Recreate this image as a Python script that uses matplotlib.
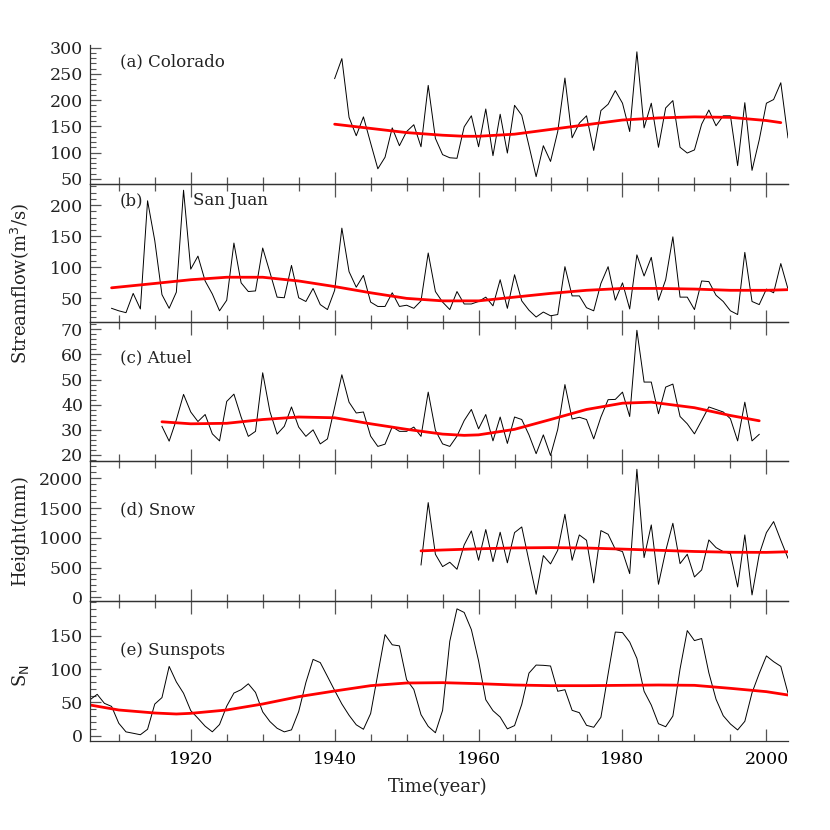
import matplotlib
matplotlib.use("Agg")
import matplotlib.pyplot as plt
from matplotlib.ticker import MultipleLocator

plt.rcParams['font.family'] = ['DejaVu Serif']

# ---------------- data ----------------
colorado_years = list(range(1940, 2004))
colorado = [241, 279, 167, 132, 168, 118, 69, 91, 147, 113,
            140, 153, 111, 228, 127, 96, 90, 89, 149, 170,
            111, 183, 94, 173, 99, 190, 171, 113, 54, 113,
            83, 140, 242, 128, 156, 170, 104, 180, 192, 218,
            194, 140, 292, 147, 194, 110, 185, 199, 110, 99,
            105, 154, 181, 151, 170, 170, 75, 195, 66, 124,
            194, 201, 233, 128]
colorado_trend_years = [1940, 1945, 1950, 1955, 1958, 1960, 1965, 1970, 1975, 1980, 1985, 1990, 1995, 2000, 2002]
colorado_trend = [154, 146, 138, 133, 131, 131, 135, 144, 153, 162, 166, 168, 167, 161, 157]

sanjuan_years = list(range(1909, 2004))
sanjuan = [34, 30, 27, 58, 33, 207, 143, 56, 34, 60,
           224, 97, 118, 78, 57, 30, 47, 139, 75, 61,
           62, 131, 92, 52, 51, 103, 51, 45, 66, 40,
           32, 63, 163, 93, 68, 87, 44, 37, 37, 59,
           37, 39, 34, 46, 123, 61, 44, 32, 61, 41,
           41, 45, 52, 38, 80, 34, 88, 46, 31, 20,
           28, 22, 24, 101, 54, 54, 35, 30, 74, 101,
           47, 75, 33, 120, 86, 116, 47, 80, 149, 52,
           52, 32, 78, 77, 55, 45, 30, 24, 124, 45,
           40, 65, 59, 106, 65]
sanjuan_trend_years = [1909, 1915, 1920, 1925, 1930, 1935, 1940, 1945, 1950, 1955, 1960, 1965, 1970, 1975, 1980, 1985, 1990, 1995, 2000, 2003]
sanjuan_trend = [67, 74, 80, 84, 84, 78, 69, 59, 50, 46, 46, 52, 58, 63, 66, 66, 65, 63, 63, 64]

atuel_years = list(range(1916, 2000))
atuel = [31.4, 25.5, 34.0, 44.1, 37.1, 33.3, 36.1, 28.4, 25.6, 41.3,
         44.2, 35.1, 27.4, 29.4, 52.7, 37.3, 28.3, 31.4, 39.1, 31.1,
         27.4, 30.0, 24.4, 26.4, 39.0, 51.9, 41.0, 36.7, 37.1, 27.5,
         23.4, 24.3, 31.2, 29.4, 29.4, 31.1, 27.4, 45.0, 29.8, 24.4,
         23.4, 27.5, 33.7, 38.1, 30.4, 36.1, 25.6, 35.1, 24.6, 35.1,
         34.1, 28.0, 20.5, 28.0, 19.8, 30.2, 48.0, 34.3, 35.0, 34.1,
         26.4, 35.1, 42.0, 42.1, 45.0, 35.3, 69.6, 49.0, 49.0, 36.4,
         47.0, 48.2, 35.3, 32.4, 28.4, 33.7, 39.1, 38.1, 37.1, 34.4,
         25.6, 41.0, 25.6, 28.2]
atuel_trend_years = [1916, 1920, 1925, 1930, 1935, 1940, 1945, 1950, 1955, 1958, 1960, 1965, 1970, 1975, 1980, 1984, 1990, 1995, 1999]
atuel_trend = [33.2, 32.4, 32.6, 34.1, 35.1, 34.8, 32.4, 30.2, 28.3, 27.8, 28.0, 30.2, 34.1, 38.1, 40.6, 41.0, 38.8, 35.7, 33.6]

snow_years = list(range(1952, 2004))
snow = [544, 1591, 723, 516, 589, 471, 880, 1115, 622, 1138,
        600, 1093, 580, 1087, 1182, 611, 51, 701, 561, 790,
        1395, 622, 1048, 958, 242, 1121, 1059, 807, 768, 398,
        2151, 667, 1216, 219, 779, 1244, 566, 723, 342, 460,
        964, 835, 768, 734, 174, 1048, 40, 723, 1087, 1272,
        958, 656]
snow_trend_years = [1952, 1955, 1960, 1965, 1970, 1975, 1980, 1985, 1990, 1995, 2000, 2003]
snow_trend = [780, 795, 815, 830, 835, 828, 810, 790, 770, 757, 755, 765]

sun_years = list(range(1906, 2004))
sunspots = [53.8, 62.0, 48.5, 43.9, 18.6, 5.7, 3.6, 1.4, 9.6, 47.4,
            57.1, 103.9, 80.6, 63.6, 37.6, 26.1, 14.2, 5.8, 16.7, 44.3,
            63.9, 69.0, 77.8, 64.9, 35.7, 21.2, 11.1, 5.7, 8.7, 36.1,
            79.7, 114.4, 109.6, 88.8, 67.8, 47.5, 30.6, 16.3, 9.6, 33.2,
            92.6, 151.6, 136.3, 134.7, 83.9, 69.4, 31.5, 13.9, 4.4, 38.0,
            141.7, 190.2, 184.8, 159.0, 112.3, 53.9, 37.5, 27.9, 10.2, 15.1,
            47.0, 93.8, 105.9, 105.5, 104.5, 66.6, 68.9, 38.0, 34.5, 15.5,
            12.6, 27.5, 92.5, 155.4, 154.6, 140.4, 115.9, 66.6, 45.9, 17.9,
            13.4, 29.4, 100.2, 157.6, 142.6, 145.7, 94.3, 54.6, 29.9, 17.5,
            8.6, 21.5, 64.3, 93.3, 119.6, 111.0, 104.0, 63.7]
sun_trend_years = [1906, 1910, 1915, 1918, 1920, 1925, 1930, 1935, 1940, 1945, 1950, 1955, 1960, 1965, 1970, 1975, 1980, 1985, 1990, 1995, 2000, 2003]
sun_trend = [46, 38.5, 34, 32.5, 33.5, 38.5, 47.5, 58.5, 67, 75, 79, 79.5, 78, 76, 75, 75, 75.5, 76, 75.5, 71, 66, 61]

panel_labels = ["(a) Colorado", "(b)", "(c) Atuel", "(d) Snow", "(e) Sunspots"]
x_tick_labels = ["1920", "1940", "1960", "1980", "2000"]
y_ticks = [
    [50, 100, 150, 200, 250, 300],
    [50, 100, 150, 200],
    [20, 30, 40, 50, 60, 70],
    [0, 500, 1000, 1500, 2000],
    [0, 50, 100, 150],
]

# ---------------- figure ----------------
fig = plt.figure(figsize=(8.3, 8.3), dpi=100)
L, R = 90 / 830, 788 / 830
tops = [45, 184, 322, 461, 601]
bots = [184, 322, 461, 601, 741]

series = [
    (colorado_years, colorado, colorado_trend_years, colorado_trend, (40, 305), 10),
    (sanjuan_years, sanjuan, sanjuan_trend_years, sanjuan_trend, (12, 234), 10),
    (atuel_years, atuel, atuel_trend_years, atuel_trend, (17.6, 72.9), 2),
    (snow_years, snow, snow_trend_years, snow_trend, (-62, 2290), 100),
    (sun_years, sunspots, sun_trend_years, sun_trend, (-8, 202), 10),
]
label_y = [0.878, 0.877, 0.74, 0.65, 0.65]

axes = []
for i, (xs, ys, tx, ty, ylim, mnr) in enumerate(series):
    b = 1 - bots[i] / 830
    h = (bots[i] - tops[i]) / 830
    ax = fig.add_axes([L, b, R - L, h])
    ax.plot(xs, ys, color='black', lw=0.7)
    ax.plot(tx, ty, color='#ff0000', lw=2.0, solid_capstyle='round')
    ax.set_xlim(1906, 2003)
    ax.set_ylim(*ylim)
    ax.xaxis.set_major_locator(MultipleLocator(20))
    ax.xaxis.set_minor_locator(MultipleLocator(5))
    ax.set_yticks(y_ticks[i])
    ax.yaxis.set_minor_locator(MultipleLocator(mnr))
    ax.spines['right'].set_visible(False)
    ax.spines['top'].set_visible(i > 0)
    for s in ax.spines.values():
        s.set_linewidth(0.9)
        s.set_color('#333333')
    ax.tick_params(axis='both', which='both', direction='in', color='#555555')
    ax.tick_params(axis='x', which='major', length=9, width=0.9, top=(i > 0))
    ax.tick_params(axis='x', which='minor', length=5, width=0.9, top=(i > 0))
    ax.tick_params(axis='y', which='major', length=8, width=0.9, labelsize=12.5, pad=5)
    ax.tick_params(axis='y', which='minor', length=4, width=0.8)
    ax.set_facecolor('none')
    if i < 4:
        ax.tick_params(axis='x', labelbottom=False)
    else:
        ax.set_xticks([1920, 1940, 1960, 1980, 2000])
        ax.set_xticklabels(x_tick_labels)
        ax.tick_params(axis='x', which='major', labelsize=12.5, pad=7)
    for lab in ax.get_yticklabels():
        lab.set_color('#222222')
    ax.text(0.043, label_y[i], panel_labels[i], transform=ax.transAxes,
            fontsize=12, va='center', ha='left', color='#222222')
    axes.append(ax)

axes[1].text(0.147, 0.877, "San Juan", transform=axes[1].transAxes,
             fontsize=12, va='center', ha='left', color='#222222')

fig.text(20 / 830, 1 - 284 / 830, "Streamflow(m$^3$/s)", rotation=90,
         ha='center', va='center', fontsize=13, color='#222222')
fig.text(20 / 830, 1 - 531 / 830, "Height(mm)", rotation=90,
         ha='center', va='center', fontsize=13, color='#222222')
fig.text(20 / 830, 1 - 676 / 830, "S$_\\mathrm{N}$", rotation=90,
         ha='center', va='center', fontsize=13, color='#222222')
fig.text(438 / 830, 1 - 787 / 830, "Time(year)", ha='center', va='center',
         fontsize=13, color='#222222')

fig.savefig("out.png", dpi=100, facecolor='white')
